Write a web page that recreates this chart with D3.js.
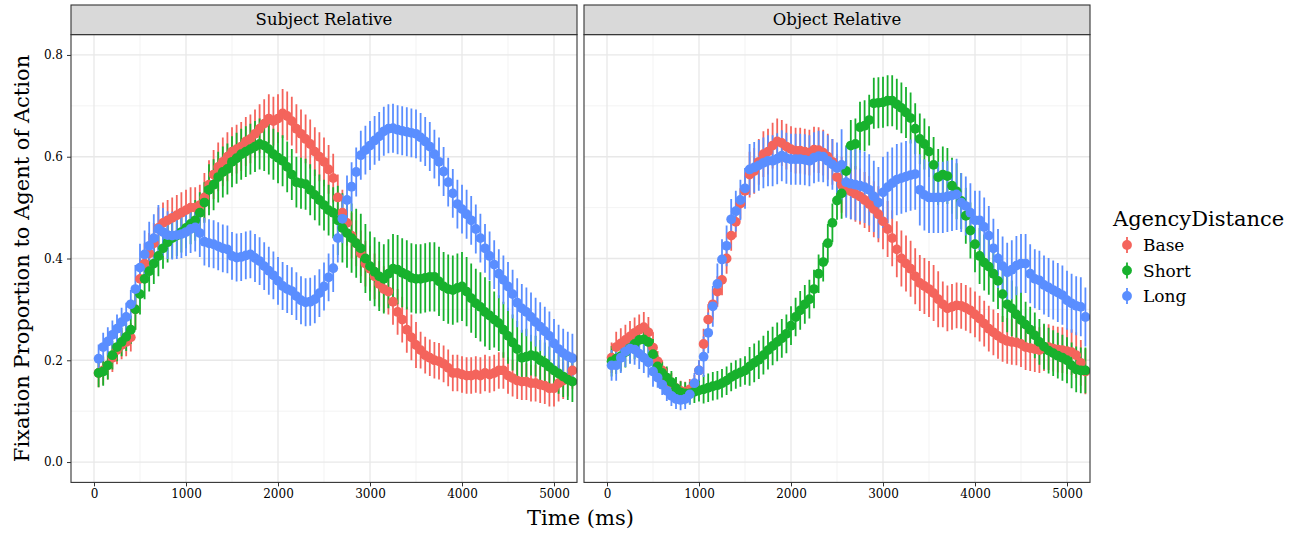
<!DOCTYPE html>
<html>
<head>
<meta charset="utf-8">
<script src="https://cdn.jsdelivr.net/npm/d3@7"></script>
<style>
  body { margin: 0; background: #fff; }
  text { font-family: "DejaVu Serif", Georgia, serif; fill: #000; }
</style>
</head>
<body>
<div class="container"></div>
<script>
// facets, groups, ticks
var facets = ["Subject Relative", "Object Relative"];
var groups = ["Base", "Short", "Long"];
var groupColors = ["#F4645C", "#17B12D", "#5A8EFF"];
var times = d3.range(50, 5201, 50); // bin start, ms
var xTicks = [0, 1000, 2000, 3000, 4000, 5000];
var yTicks = [0, 0.2, 0.4, 0.6, 0.8];

// Subject Relative, mean fixation proportion per 50 ms bin
var subjBase = [.175,.18,.19,.205,.22,.23,.236,.245,.30,.36,
  .39,.41,.43,.46,.47,.475,.48,.485,.49,.495,
  .50,.50,.505,.52,.545,.565,.58,.59,.60,.61,
  .615,.62,.63,.635,.645,.655,.665,.675,.67,.675,
  .685,.68,.67,.655,.645,.635,.625,.61,.60,.59,
  .575,.558,.52,.49,.47,.445,.43,.41,.39,.38,
  .365,.35,.34,.335,.315,.295,.28,.26,.245,.23,
  .22,.21,.205,.20,.198,.193,.185,.175,.175,.172,
  .17,.17,.172,.17,.175,.172,.175,.18,.18,.17,
  .165,.16,.158,.158,.155,.155,.152,.15,.145,.145,
  .155,.16,.165,.18];
var subjShort = [.175,.178,.19,.21,.226,.236,.246,.26,.30,.33,
  .36,.375,.39,.405,.42,.432,.44,.445,.452,.46,
  .468,.475,.49,.51,.535,.545,.56,.57,.576,.59,
  .597,.605,.61,.615,.62,.625,.622,.615,.605,.598,
  .592,.58,.565,.55,.548,.546,.535,.525,.515,.505,
  .495,.49,.475,.46,.45,.44,.43,.42,.40,.385,
  .374,.365,.36,.37,.38,.378,.372,.368,.362,.36,
  .36,.362,.364,.364,.355,.345,.34,.338,.342,.345,
  .335,.322,.312,.305,.295,.288,.28,.273,.26,.248,
  .235,.222,.205,.207,.21,.208,.20,.195,.187,.18,
  .174,.168,.162,.158];
var subjLong = [.203,.226,.237,.25,.262,.275,.285,.31,.34,.382,
  .408,.425,.44,.458,.452,.446,.445,.446,.448,.452,
  .458,.461,.45,.433,.43,.428,.424,.42,.418,.405,
  .402,.403,.406,.408,.401,.395,.385,.376,.367,.356,
  .346,.34,.336,.326,.318,.314,.315,.32,.332,.345,
  .363,.381,.44,.478,.515,.541,.57,.603,.613,.622,
  .632,.64,.65,.655,.656,.653,.651,.649,.647,.645,
  .638,.63,.62,.605,.59,.571,.55,.528,.507,.497,
  .487,.475,.458,.44,.42,.405,.388,.37,.358,.345,
  .33,.313,.302,.295,.285,.275,.266,.257,.248,.233,
  .222,.214,.208,.204];

// Object Relative
var objBase = [.205,.226,.233,.24,.247,.254,.26,.265,.255,.225,
  .198,.18,.165,.155,.145,.14,.138,.143,.151,.18,
  .232,.28,.31,.335,.358,.40,.445,.472,.508,.533,
  .565,.572,.59,.605,.61,.622,.63,.627,.62,.615,
  .612,.612,.61,.608,.614,.613,.608,.60,.59,.56,
  .545,.538,.532,.527,.522,.515,.507,.497,.487,.473,
  .458,.44,.418,.40,.39,.38,.365,.352,.346,.34,
  .332,.32,.31,.302,.305,.308,.307,.303,.298,.29,
  .282,.272,.262,.255,.248,.242,.238,.236,.235,.232,
  .226,.224,.222,.22,.224,.226,.223,.221,.22,.218,
  .216,.21,.195,.178];
var objShort = [.198,.203,.208,.216,.224,.232,.24,.241,.236,.212,
  .188,.175,.166,.157,.145,.137,.135,.135,.138,.141,
  .143,.146,.149,.151,.155,.16,.167,.172,.176,.18,
  .188,.195,.201,.21,.22,.228,.236,.243,.252,.268,
  .285,.298,.31,.32,.34,.37,.393,.43,.47,.514,
  .528,.572,.622,.625,.658,.661,.672,.705,.706,.707,
  .71,.71,.703,.696,.687,.676,.655,.635,.625,.61,
  .584,.56,.565,.562,.543,.532,.513,.484,.455,.428,
  .405,.392,.384,.37,.356,.33,.31,.302,.29,.279,
  .27,.26,.249,.236,.227,.219,.214,.209,.205,.20,
  .19,.182,.18,.18];
var objLong = [.19,.19,.205,.217,.223,.221,.213,.205,.196,.178,
  .166,.152,.14,.13,.124,.122,.124,.133,.155,.18,
  .207,.254,.306,.35,.398,.425,.477,.493,.515,.538,
  .575,.579,.583,.588,.592,.592,.596,.602,.597,.595,
  .595,.595,.594,.592,.598,.601,.60,.592,.585,.578,
  .584,.55,.547,.545,.543,.54,.535,.522,.51,.53,
  .54,.548,.555,.558,.561,.564,.566,.535,.525,.52,
  .52,.52,.52,.522,.524,.526,.51,.503,.49,.475,
  .475,.462,.445,.42,.40,.385,.373,.378,.386,.39,
  .39,.37,.36,.357,.348,.343,.338,.333,.328,.318,
  .312,.307,.305,.285];

// error bar half-widths, as [up to ms, half-width]
var subjBaseErr = [[400, .028], [1150, .04], [2600, .048], [3500, .045], [5200, .036]];
var subjShortErr = [[400, .028], [1200, .04], [2600, .05], [4300, .068], [4700, .055], [5200, .04]];
var subjLongErr = [[400, .028], [2600, .047], [5200, .048]];
var objBaseErr = [[500, .03], [1000, .02], [1500, .03], [2500, .045], [3600, .055], [5200, .045]];
var objShortErr = [[500, .03], [1000, .022], [1500, .028], [2500, .038], [3500, .05], [4500, .055], [5200, .045]];
var objLongErr = [[500, .03], [1000, .02], [1500, .04], [2500, .05], [3800, .07], [5200, .058]];

var panels = [
  { name: facets[0], series: [subjBase, subjShort, subjLong], errs: [subjBaseErr, subjShortErr, subjLongErr] },
  { name: facets[1], series: [objBase, objShort, objLong], errs: [objBaseErr, objShortErr, objLongErr] }
];

var width = 1296,
  height = 535,
  stripTop = 5,
  panelTop = 34.6,
  panelBottom = 482.4,
  panelW = 506,
  panelLefts = [71, 584],
  pointRadius = 4.9;

var svg = d3.select(".container").append("svg")
  .attr("width", width)
  .attr("height", height);

var y = d3.scaleLinear().domain([-0.04, 0.84]).range([panelBottom, panelTop]);

function errAt(segs, t) {
  for (var i = 0; i < segs.length; i++) {
    if (t <= segs[i][0]) return segs[i][1];
  }
  return segs[segs.length - 1][1];
}

panels.forEach(function(p, pi) {
  var left = panelLefts[pi];
  var x = d3.scaleLinear().domain([-250, 5250]).range([left, left + panelW]);
  var g = svg.append("g");

  // panel background + grid
  g.append("rect")
    .attr("x", left).attr("y", panelTop)
    .attr("width", panelW).attr("height", panelBottom - panelTop)
    .attr("fill", "#fff");

  g.selectAll(".xminor")
    .data([500, 1500, 2500, 3500, 4500]).enter()
    .append("line")
    .attr("x1", function(d) { return x(d); }).attr("x2", function(d) { return x(d); })
    .attr("y1", panelTop).attr("y2", panelBottom)
    .attr("stroke", "#f0f0f0").attr("stroke-width", 0.8);
  g.selectAll(".yminor")
    .data([0.1, 0.3, 0.5, 0.7]).enter()
    .append("line")
    .attr("x1", left).attr("x2", left + panelW)
    .attr("y1", function(d) { return y(d); }).attr("y2", function(d) { return y(d); })
    .attr("stroke", "#f0f0f0").attr("stroke-width", 0.8);
  g.selectAll(".xmajor")
    .data(xTicks).enter()
    .append("line")
    .attr("x1", function(d) { return x(d); }).attr("x2", function(d) { return x(d); })
    .attr("y1", panelTop).attr("y2", panelBottom)
    .attr("stroke", "#e8e8e8").attr("stroke-width", 1.3);
  g.selectAll(".ymajor")
    .data(yTicks).enter()
    .append("line")
    .attr("x1", left).attr("x2", left + panelW)
    .attr("y1", function(d) { return y(d); }).attr("y2", function(d) { return y(d); })
    .attr("stroke", "#e8e8e8").attr("stroke-width", 1.3);

  // clip for the data
  var clipId = "clip" + pi;
  svg.append("clipPath").attr("id", clipId)
    .append("rect")
    .attr("x", left).attr("y", panelTop)
    .attr("width", panelW).attr("height", panelBottom - panelTop);

  var dataG = g.append("g").attr("clip-path", "url(#" + clipId + ")");

  // error bars first, then points (Base, Short, Long order)
  p.series.forEach(function(vals, si) {
    dataG.append("g").selectAll("line")
      .data(vals).enter()
      .append("line")
      .attr("x1", function(d, i) { return x(times[i]); })
      .attr("x2", function(d, i) { return x(times[i]); })
      .attr("y1", function(d, i) { return y(d - errAt(p.errs[si], times[i])); })
      .attr("y2", function(d, i) { return y(d + errAt(p.errs[si], times[i])); })
      .attr("stroke", groupColors[si])
      .attr("stroke-width", 1.8);
  });
  p.series.forEach(function(vals, si) {
    dataG.append("g").selectAll("circle")
      .data(vals).enter()
      .append("circle")
      .attr("cx", function(d, i) { return x(times[i]); })
      .attr("cy", function(d) { return y(d); })
      .attr("r", pointRadius)
      .attr("fill", groupColors[si]);
  });

  // border
  g.append("rect")
    .attr("x", left).attr("y", panelTop)
    .attr("width", panelW).attr("height", panelBottom - panelTop)
    .attr("fill", "none").attr("stroke", "#333").attr("stroke-width", 1.1);

  // strip
  g.append("rect")
    .attr("x", left).attr("y", stripTop)
    .attr("width", panelW).attr("height", panelTop - stripTop)
    .attr("fill", "#d9d9d9").attr("stroke", "#333").attr("stroke-width", 1.1);
  g.append("text")
    .attr("x", left + panelW / 2).attr("y", (stripTop + panelTop) / 2 + 5.5)
    .attr("text-anchor", "middle")
    .style("font-size", "16.5px")
    .attr("fill", "#1a1a1a")
    .text(p.name);

  // x axis
  var xAxis = g.append("g")
    .attr("transform", "translate(0," + panelBottom + ")")
    .call(d3.axisBottom(x).tickValues(xTicks).tickSize(4).tickPadding(3).tickFormat(d3.format("d")));
  xAxis.select(".domain").remove();
  xAxis.selectAll("line").attr("stroke", "#333");
  xAxis.selectAll("text").style("font-size", "12px").attr("fill", "#4d4d4d")
    .style("font-family", "'DejaVu Serif', serif");

  if (pi === 0) {
    var yAxis = g.append("g")
      .attr("transform", "translate(" + left + ",0)")
      .call(d3.axisLeft(y).tickValues(yTicks).tickSize(4).tickPadding(4).tickFormat(d3.format(".1f")));
    yAxis.select(".domain").remove();
    yAxis.selectAll("line").attr("stroke", "#333");
    yAxis.selectAll("text").style("font-size", "12px").attr("fill", "#4d4d4d")
      .style("font-family", "'DejaVu Serif', serif");
  }
});

// axis titles
svg.append("text")
  .attr("x", (panelLefts[0] + panelLefts[1] + panelW) / 2)
  .attr("y", 525)
  .attr("text-anchor", "middle")
  .style("font-size", "21px")
  .text("Time (ms)");

svg.append("text")
  .attr("transform", "translate(29," + ((panelTop + panelBottom) / 2) + ") rotate(-90)")
  .attr("text-anchor", "middle")
  .style("font-size", "21px")
  .text("Fixation Proportion to Agent of Action");

// legend
var legend = svg.append("g").attr("transform", "translate(1113,0)");
legend.append("text")
  .attr("x", 0).attr("y", 226)
  .style("font-size", "21px")
  .text("AgencyDistance");

var keys = legend.selectAll(".key")
  .data(groups).enter()
  .append("g")
  .attr("transform", function(d, i) { return "translate(14," + (245 + i * 25.5) + ")"; });
keys.append("line")
  .attr("x1", 0).attr("x2", 0).attr("y1", -8).attr("y2", 8)
  .attr("stroke", function(d, i) { return groupColors[i]; })
  .attr("stroke-width", 1.8);
keys.append("circle")
  .attr("r", pointRadius)
  .attr("fill", function(d, i) { return groupColors[i]; });
keys.append("text")
  .attr("x", 16).attr("y", 6)
  .style("font-size", "17px")
  .text(function(d) { return d; });
</script>
</body>
</html>
